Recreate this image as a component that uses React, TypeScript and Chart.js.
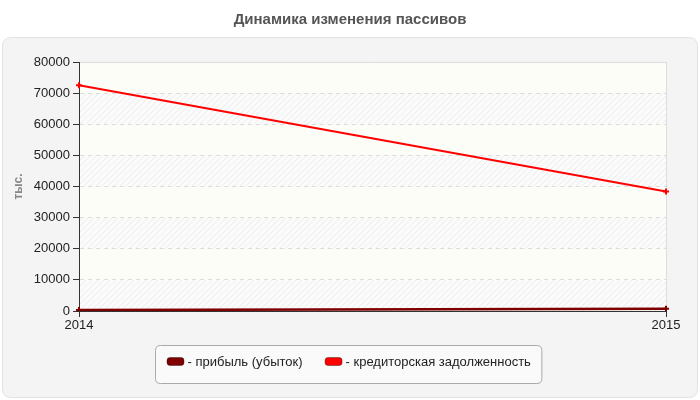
import { useEffect, useRef } from 'react';
import { Chart, registerables } from 'chart.js';
import type { Plugin } from 'chart.js';

Chart.register(...registerables);

const TITLE = 'Динамика изменения пассивов';
const Y_TITLE = 'тыс.';
const YEARS = ['2014', '2015'];
const PROFIT = [300, 700];
const PAYABLES = [72500, 38400];
const SERIES_LABELS = ['- прибыль (убыток)', '- кредиторская задолженность'];
const SERIES_COLORS = ['#800000', '#ff0000'];

const FONT = '"Liberation Sans", Arial, sans-serif';

function makeHatch(): CanvasPattern | string {
  const c = document.createElement('canvas');
  c.width = 6;
  c.height = 6;
  const g = c.getContext('2d');
  if (!g) return '#f8f8f8';
  g.fillStyle = '#fbfbfb';
  g.fillRect(0, 0, 6, 6);
  g.strokeStyle = '#ececec';
  g.lineWidth = 1;
  g.beginPath();
  g.moveTo(0, 6);
  g.lineTo(6, 0);
  g.moveTo(-3, 3);
  g.lineTo(3, -3);
  g.moveTo(3, 9);
  g.lineTo(9, 3);
  g.stroke();
  return g.createPattern(c, 'repeat') ?? '#f8f8f8';
}

function roundRect(ctx: CanvasRenderingContext2D, x: number, y: number, w: number, h: number, r: number) {
  ctx.beginPath();
  ctx.moveTo(x + r, y);
  ctx.lineTo(x + w - r, y);
  ctx.quadraticCurveTo(x + w, y, x + w, y + r);
  ctx.lineTo(x + w, y + h - r);
  ctx.quadraticCurveTo(x + w, y + h, x + w - r, y + h);
  ctx.lineTo(x + r, y + h);
  ctx.quadraticCurveTo(x, y + h, x, y + h - r);
  ctx.lineTo(x, y + r);
  ctx.quadraticCurveTo(x, y, x + r, y);
  ctx.closePath();
}

const backdrop: Plugin<'line'> = {
  id: 'backdrop',
  beforeDraw(chart) {
    const { ctx, chartArea, scales } = chart;
    const y = scales.y;
    ctx.save();
    ctx.fillStyle = '#ffffff';
    ctx.fillRect(0, 0, chart.width, chart.height);

    // outer panel
    roundRect(ctx, 2.5, 37.5, 695, 360, 9);
    ctx.fillStyle = '#f4f4f4';
    ctx.fill();
    ctx.strokeStyle = '#e2e2e2';
    ctx.lineWidth = 1;
    ctx.stroke();

    // title
    ctx.fillStyle = '#555555';
    ctx.font = `bold 15px ${FONT}`;
    ctx.textAlign = 'center';
    ctx.textBaseline = 'middle';
    ctx.fillText(TITLE, 350, 20);

    // alternating bands
    const hatch = makeHatch();
    const ticks = y.ticks;
    for (let i = 0; i < ticks.length - 1; i += 1) {
      const v0 = ticks[i].value;
      const v1 = ticks[i + 1].value;
      const top = y.getPixelForValue(v1);
      const bottom = y.getPixelForValue(v0);
      ctx.fillStyle = Math.round(v0 / 10000) % 2 === 1 ? '#fdfdf7' : hatch;
      ctx.fillRect(chartArea.left, top, chartArea.right - chartArea.left, bottom - top);
    }

    // frame top/right
    ctx.strokeStyle = '#dddddd';
    ctx.beginPath();
    ctx.moveTo(chartArea.left, chartArea.top + 0.5);
    ctx.lineTo(chartArea.right + 0.5, chartArea.top + 0.5);
    ctx.lineTo(chartArea.right + 0.5, chartArea.bottom);
    ctx.stroke();
    ctx.restore();
  },
  afterDraw(chart) {
    const { ctx } = chart;
    ctx.save();
    ctx.font = `13px ${FONT}`;
    const sw = 18;
    const gapSw = 3;
    const gapItem = 22;
    const pad = 11;
    const items = chart.data.datasets.map(ds => ({
      label: String(ds.label ?? ''),
      color: String(ds.borderColor ?? '#000'),
      w: ctx.measureText(String(ds.label ?? '')).width
    }));
    const content = items.reduce((s, it) => s + sw + gapSw + it.w, 0) + gapItem * (items.length - 1);
    const boxW = content + pad * 2;
    const boxX = Math.round(348.5 - boxW / 2) + 0.5;
    const boxY = 345.5;
    roundRect(ctx, boxX, boxY, boxW, 38, 5);
    ctx.fillStyle = '#fafafa';
    ctx.fill();
    ctx.strokeStyle = '#aaaaaa';
    ctx.lineWidth = 1;
    ctx.stroke();

    let x = boxX + pad;
    const cy = 361.5;
    ctx.textBaseline = 'middle';
    ctx.textAlign = 'left';
    for (const it of items) {
      roundRect(ctx, x + 0.5, cy - 4, sw - 1, 8, 3);
      ctx.fillStyle = it.color;
      ctx.fill();
      ctx.strokeStyle = 'rgba(0,0,0,0.35)';
      ctx.stroke();
      x += sw + gapSw;
      ctx.fillStyle = '#222222';
      ctx.fillText(it.label, x, cy + 0.5);
      x += it.w + gapItem;
    }
    ctx.restore();
  }
};

export default function App() {
  const canvasRef = useRef<HTMLCanvasElement | null>(null);
  const chartRef = useRef<Chart<'line', number[], string> | null>(null);

  useEffect(() => {
    const canvas = canvasRef.current;
    if (!canvas) return;

    chartRef.current = new Chart(canvas, {
      type: 'line',
      data: {
        labels: YEARS,
        datasets: [
          {
            label: SERIES_LABELS[0],
            data: PROFIT,
            borderColor: SERIES_COLORS[0],
            backgroundColor: SERIES_COLORS[0],
            borderWidth: 2.5,
            pointStyle: 'cross',
            pointRadius: 3,
            pointBorderWidth: 2,
            tension: 0
          },
          {
            label: SERIES_LABELS[1],
            data: PAYABLES,
            borderColor: SERIES_COLORS[1],
            backgroundColor: SERIES_COLORS[1],
            borderWidth: 2,
            pointStyle: 'cross',
            pointRadius: 3,
            pointBorderWidth: 2,
            tension: 0
          }
        ]
      },
      options: {
        responsive: false,
        animation: false,
        devicePixelRatio: 1,
        layout: { padding: { top: 62, right: 34, bottom: 65, left: 0 } },
        plugins: {
          legend: { display: false },
          title: { display: false },
          tooltip: { enabled: false }
        },
        scales: {
          x: {
            type: 'category',
            offset: false,
            grid: {
              color: c => (c.index === 1 ? '#dddddd' : 'rgba(0,0,0,0)'),
              tickColor: '#333333',
              tickLength: 6,
              drawOnChartArea: true
            },
            border: { color: '#333333', width: 1 },
            ticks: {
              color: '#222222',
              font: { family: FONT, size: 13 },
              padding: 1,
              maxRotation: 0,
              autoSkip: false
            },
            afterFit: scale => {
              scale.height = 24;
            }
          },
          y: {
            min: 0,
            max: 80000,
            ticks: {
              stepSize: 10000,
              color: '#222222',
              font: { family: FONT, size: 13 },
              padding: 3,
              callback: v => String(v)
            },
            grid: {
              color: c => (c.tick && c.tick.value === 80000 ? 'rgba(0,0,0,0)' : '#dddddd'),
              tickColor: '#333333',
              tickLength: 6,
              tickBorderDash: [],
              drawOnChartArea: true
            },
            border: { color: '#333333', width: 1, dash: [4, 4] },
            title: {
              display: true,
              text: Y_TITLE,
              color: '#888888',
              font: { family: FONT, size: 12, weight: 'bold' },
              padding: { top: 11, bottom: 0 }
            },
            afterFit: scale => {
              scale.width = 79;
            }
          }
        }
      },
      plugins: [backdrop]
    });

    return () => {
      if (chartRef.current) {
        chartRef.current.destroy();
        chartRef.current = null;
      }
    };
  }, []);

  return (
    <div style={{ position: 'fixed', left: 0, top: 0, width: 700, height: 400, background: '#fff' }}>
      <canvas ref={canvasRef} width={700} height={400} style={{ width: 700, height: 400 }} />
    </div>
  );
}
